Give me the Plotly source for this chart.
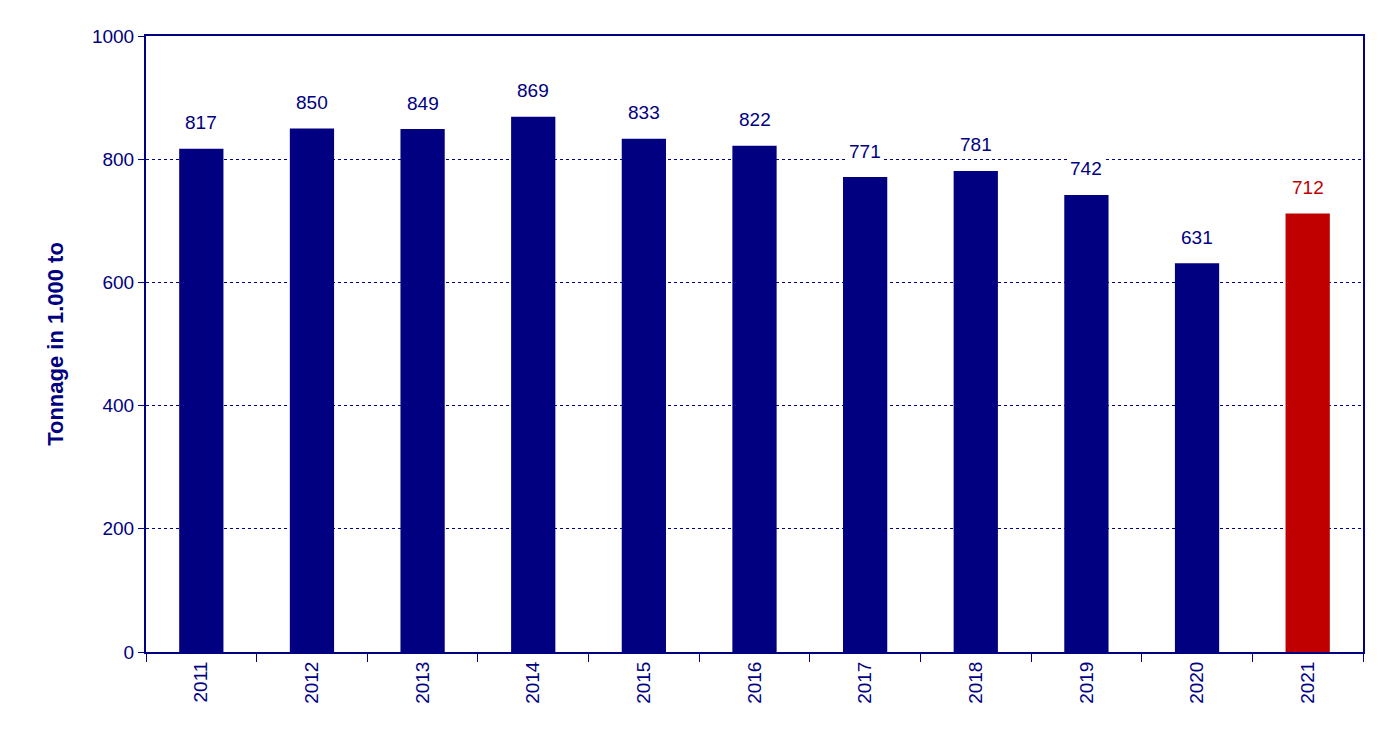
import plotly.graph_objects as go

years = ["2011", "2012", "2013", "2014", "2015", "2016", "2017", "2018", "2019", "2020", "2021"]
tonnage = [817, 850, 849, 869, 833, 822, 771, 781, 742, 631, 712]

navy = "#000080"
red = "#C00000"
colors = [navy] * 10 + [red]

fig = go.Figure(
    go.Bar(x=years, y=tonnage, marker_color=colors, marker_line_width=0, width=0.4)
)

# annotations placed by category index so the axis stays categorical
for i, (val, col) in enumerate(zip(tonnage, colors)):
    fig.add_annotation(
        x=i, y=val, text=str(val), showarrow=False, yshift=26,
        bgcolor="white", font=dict(color=col, size=19, family="Liberation Sans"),
    )

fig.update_layout(
    width=1379, height=734,
    margin=dict(l=138, r=24, t=28, b=90, autoexpand=False),
    plot_bgcolor="white", paper_bgcolor="white",
    font=dict(family="Liberation Sans", color=navy, size=19),
    showlegend=False,
)
fig.update_xaxes(
    type="category", tickangle=-90, tickson="boundaries", ticks="outside",
    ticklen=8, tickcolor=navy, showline=True, linecolor=navy, linewidth=2,
    mirror=True, showgrid=False,
)
fig.update_yaxes(
    range=[0, 1000], dtick=200, ticks="outside", ticklen=6, tickcolor=navy,
    showline=True, linecolor=navy, linewidth=2, mirror=True,
    showgrid=True, gridcolor=navy, griddash="dot", gridwidth=1,
    title=dict(text="<b>Tonnage in 1.000 to</b>", font=dict(size=22), standoff=22),
)

fig.write_html("out.html")
